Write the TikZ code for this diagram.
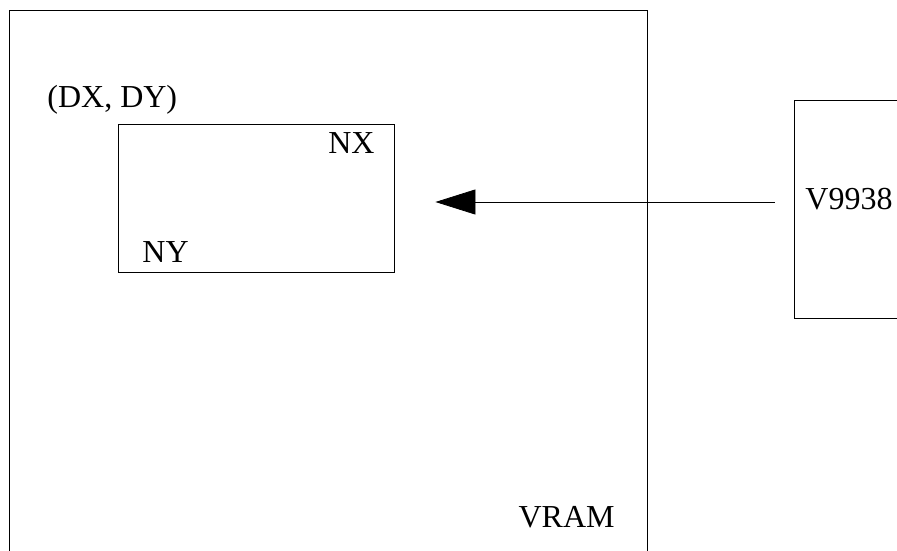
\documentclass[tikz,border=0pt]{standalone}
\usepackage{fontspec}
\setmainfont{Liberation Serif}
\usetikzlibrary{arrows.meta}

\begin{document}
\begin{tikzpicture}[x=1pt,y=1pt,line width=0.8pt,
    box/.style={draw, rectangle, inner sep=0pt},
    lbl/.style={font=\fontsize{32}{38}\selectfont, inner sep=0pt}]
    \def \W {897}
    \def \H {550}
    \useasboundingbox (0,0) rectangle (\W,\H);
    \clip (0,0) rectangle (\W,\H);
    % memory area, open at the bottom of the page
    \node[box, minimum width=638pt, minimum height=560pt] (vram) at (328,260) {};
    \node[lbl, anchor=base east] (vramlbl) at (615,23) {VRAM};
    % transfer window at (DX, DY)
    \node[box, minimum width=276pt, minimum height=148pt] (win) at (256,352) {};
    \node[lbl, anchor=base west] (dxdy) at (47,442) {(DX, DY)};
    \node[lbl, anchor=base east] (nx) at (375,396) {NX};
    \node[lbl, anchor=base west] (ny) at (142,288) {NY};
    % the VDP, open on the right
    \node[box, minimum width=140pt, minimum height=218pt] (vdp) at (864,341) {};
    \node[lbl, anchor=base west] (vdplbl) at (805,341) {V9938};
    % command data flow
    \coordinate (src) at ([xshift=-19pt]vdp.west |- 0,348);
    \coordinate (dst) at ([xshift=41pt]win.east |- 0,348);
    \draw[-{Triangle[length=40pt,width=25pt]}] (src) -- (dst);
\end{tikzpicture}
\end{document}
